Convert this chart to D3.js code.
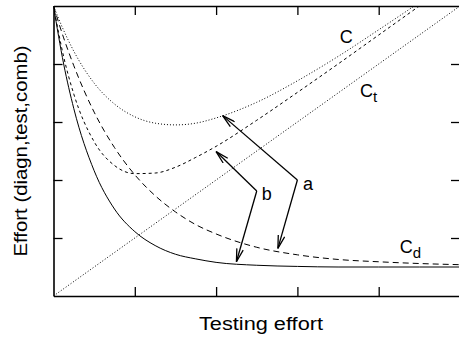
<!DOCTYPE html>
<html>
<head>
    <title>Testing effort</title>
    <script src="https://d3js.org/d3.v7.min.js"></script>
    <style>
        body { margin: 0; background: #fff; }
        text { font-family: "Liberation Sans", Arial, sans-serif; fill: #000; }
    </style>
</head>
<body>
<script>
    // values (both axes run 0..5, no tick labels)
    var effortX = [0, 0.125, 0.25, 0.5, 0.75, 1, 1.25, 1.5, 1.75, 2, 2.5, 3, 3.5, 4, 4.5, 5];
    var diagA   = [5.00, 4.45, 3.97, 3.17, 2.56, 2.09, 1.73, 1.45, 1.23, 1.07, 0.84, 0.71, 0.63, 0.59, 0.56, 0.54];
    var diagB   = [5.00, 4.00, 3.23, 2.16, 1.50, 1.11, 0.87, 0.72, 0.64, 0.58, 0.53, 0.51, 0.50, 0.50, 0.50, 0.50];
    var combA   = [5.00, 4.58, 4.22, 3.67, 3.31, 3.09, 2.98, 2.95, 2.98, 3.07, 3.34, 3.71, 4.13, 4.59, 5.06, 5.54];
    var combB   = [5.00, 4.125, 3.48, 2.66, 2.25, 2.11, 2.12, 2.22, 2.39, 2.58, 3.03, 3.51, 4.00, 4.50, 5.00, 5.50];
    var testX   = [0, 5];
    var testY   = [0, 5];
    var tickVals = [1, 2, 3, 4];

    // arrows: [vertex, tip] in data units
    var arrowsA = [[[3.0, 2.0], [2.08, 3.11]], [[3.0, 2.0], [2.76, 0.82]]];
    var arrowsB = [[[2.5, 1.81], [2.0, 2.49]], [[2.5, 1.81], [2.25, 0.59]]];

    var margin = {top: 6, right: 0, bottom: 42, left: 53.5};
    var width = 406.5;   // right edge falls just outside the window
    var height = 290;

    var svg = d3.select("body")
        .append("svg")
        .attr("width", 459)
        .attr("height", 338);

    // arrow head
    svg.append("defs").append("marker")
        .attr("id", "head")
        .attr("markerUnits", "userSpaceOnUse")
        .attr("viewBox", "-14 -4 15 8")
        .attr("refX", 0).attr("refY", 0)
        .attr("markerWidth", 15).attr("markerHeight", 8)
        .attr("orient", "auto")
        .append("path")
        .attr("d", "M-13,-3.3L0,0L-13,3.3")
        .attr("fill", "none")
        .attr("stroke", "#000")
        .attr("stroke-width", 1.3);

    svg.select("defs").append("clipPath")
        .attr("id", "plotclip")
        .append("rect")
        .attr("width", width).attr("height", height);

    var g = svg.append("g")
        .attr("transform", "translate(" + margin.left + "," + margin.top + ")");

    var x = d3.scaleLinear().domain([0, 5]).range([0, width]);
    var y = d3.scaleLinear().domain([0, 5]).range([height, 0]);

    var line = d3.line()
        .x(function(d) { return x(d[0]); })
        .y(function(d) { return y(d[1]); })
        .curve(d3.curveMonotoneX);

    var curves = [
        {vals: diagB, xs: effortX, dash: null},
        {vals: diagA, xs: effortX, dash: "6,4"},
        {vals: combB, xs: effortX, dash: "3,3"},
        {vals: combA, xs: effortX, dash: "1,2"},
        {vals: testY, xs: testX, dash: "1,2"}
    ];

    var plot = g.append("g").attr("clip-path", "url(#plotclip)");
    curves.forEach(function(c) {
        plot.append("path")
            .datum(c.xs.map(function(v, i) { return [v, c.vals[i]]; }))
            .attr("d", line)
            .attr("fill", "none")
            .attr("stroke", "#000")
            .attr("stroke-width", 1)
            .attr("stroke-dasharray", c.dash);
    });

    // frame with inward ticks on all four sides
    function noLabels() { return ""; }
    g.append("g").attr("transform", "translate(0," + height + ")")
        .call(d3.axisBottom(x).tickValues(tickVals).tickSizeInner(-9).tickSizeOuter(0).tickFormat(noLabels));
    g.append("g")
        .call(d3.axisTop(x).tickValues(tickVals).tickSizeInner(-9).tickSizeOuter(0).tickFormat(noLabels));
    g.append("g")
        .call(d3.axisLeft(y).tickValues(tickVals).tickSizeInner(-9).tickSizeOuter(0).tickFormat(noLabels));
    g.append("g").attr("transform", "translate(" + width + ",0)")
        .call(d3.axisRight(y).tickValues(tickVals).tickSizeInner(-9).tickSizeOuter(0).tickFormat(noLabels));
    g.selectAll(".domain").attr("stroke-width", 1.6);
    g.selectAll(".tick line").attr("stroke-width", 1.3);

    // arrows
    arrowsA.concat(arrowsB).forEach(function(a) {
        g.append("line")
            .attr("x1", x(a[0][0])).attr("y1", y(a[0][1]))
            .attr("x2", x(a[1][0])).attr("y2", y(a[1][1]))
            .attr("stroke", "#000")
            .attr("stroke-width", 1.3)
            .attr("marker-end", "url(#head)");
    });

    // curve labels
    function label(txt, sub, px, py) {
        var t = g.append("text")
            .attr("x", x(px)).attr("y", y(py))
            .style("font-size", "18px")
            .text(txt);
        if (sub) {
            t.append("tspan").attr("dy", 5).style("font-size", "15px").text(sub);
        }
    }
    label("C", null, 3.52, 4.36);
    label("C", "t", 3.77, 3.43);
    label("C", "d", 4.26, 0.74);
    label("a", null, 3.07, 1.83);
    label("b", null, 2.56, 1.66);

    // axis titles
    svg.append("text")
        .attr("x", 261).attr("y", 330)
        .attr("text-anchor", "middle")
        .attr("textLength", 124).attr("lengthAdjust", "spacingAndGlyphs")
        .style("font-size", "18px")
        .text("Testing effort");

    svg.append("text")
        .attr("transform", "translate(27,151) rotate(-90)")
        .attr("text-anchor", "middle")
        .attr("textLength", 211).attr("lengthAdjust", "spacingAndGlyphs")
        .style("font-size", "18px")
        .text("Effort (diagn,test,comb)");
</script>
</body>
</html>
